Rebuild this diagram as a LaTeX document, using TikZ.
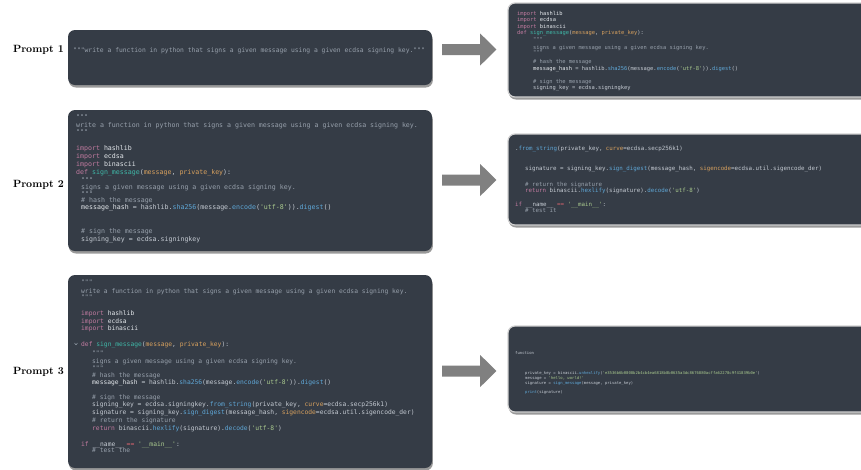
\documentclass[tikz,border=0pt]{standalone}
\usepackage{fontspec}
\setmonofont{DejaVu Sans Mono}
\usetikzlibrary{calc,shadows}
\definecolor{boxbg}{HTML}{353C46}
\definecolor{ctext}{HTML}{C5CBD3}
\definecolor{ckw}{HTML}{C27BA0}
\definecolor{cfn}{HTML}{3FB8A8}
\definecolor{cpar}{HTML}{D8A15E}
\definecolor{ccom}{HTML}{98A1AC}
\definecolor{cmth}{HTML}{5FA8D8}
\definecolor{cstrg}{HTML}{A9C98E}
\definecolor{copr}{HTML}{D9646E}
\definecolor{cmdl}{HTML}{E4E8EC}
\definecolor{arrowgray}{HTML}{808080}
\newcommand\kwd[1]{\textcolor{ckw}{#1}}
\newcommand\fnn[1]{\textcolor{cfn}{#1}}
\newcommand\prm[1]{\textcolor{cpar}{#1}}
\newcommand\cmt[1]{\textcolor{ccom}{#1}}
\newcommand\mtd[1]{\textcolor{cmth}{#1}}
\newcommand\strg[1]{\textcolor{cstrg}{#1}}
\newcommand\opr[1]{\textcolor{copr}{#1}}
\newcommand\mdl[1]{\textcolor{cmdl}{#1}}
\newcommand\cl[5]{\node[#1] (#2) at (#3,#4) {#5};}
\tikzset{
  codebox/.style={rectangle, fill=boxbg, rounded corners=7pt, inner sep=0pt,
    drop shadow={shadow xshift=0.8pt, shadow yshift=-2.5pt, fill=black, opacity=0.4}},
  outbox/.style={codebox, draw=black!18, line width=1.2pt},
  code/.style={anchor=mid west, inner sep=0pt, text=ctext},
  cA/.style={code, font=\ttfamily\fontsize{6.35}{7}\selectfont},
  cB/.style={code, font=\ttfamily\fontsize{6.6}{8}\selectfont},
  cC/.style={code, font=\ttfamily\fontsize{6.3}{8}\selectfont},
  cD/.style={code, font=\ttfamily\fontsize{5.4}{6}\selectfont},
  cE/.style={code, font=\ttfamily\fontsize{5.8}{6}\selectfont},
  cF/.style={code, font=\ttfamily\fontsize{3.9}{5}\selectfont},
  lbl/.style={anchor=mid east, inner sep=0pt, font=\bfseries\fontsize{10.5}{12}\selectfont},
  blockarrow/.style={fill=arrowgray},
}
\begin{document}
\begin{tikzpicture}[x=1pt,y=-1pt]
\useasboundingbox (0,0) rectangle (861,469);
\fill[white] (0,0) rectangle (861,469);

% boxes
\node[codebox, minimum width=364pt, minimum height=55pt] (p1box) at (250,57.5) {};
\node[codebox, minimum width=364pt, minimum height=141pt] (p2box) at (250,180.5) {};
\node[codebox, minimum width=364pt, minimum height=193pt] (p3box) at (250,371.5) {};
\node[outbox, minimum width=372pt, minimum height=94pt] (r1box) at (694,50) {};
\node[outbox, minimum width=372pt, minimum height=91pt] (r2box) at (694,179.5) {};
\node[outbox, minimum width=372pt, minimum height=86pt] (r3box) at (694,369) {};

% labels
\node[lbl] (l1) at (64,50) {Prompt 1};
\node[lbl] (l2) at (64,185) {Prompt 2};
\node[lbl] (l3) at (64,372) {Prompt 3};

% arrows
\coordinate (a1) at (0,49.5);
\coordinate (a2) at (0,180);
\coordinate (a3) at (0,371);
\foreach \b/\r/\a in {p1box/r1box/a1, p2box/r2box/a2, p3box/r3box/a3}{
  \fill[blockarrow] ($(\b.east |- \a)+(10,-5.5)$) -- ++(38,0) -- ++(0,-10.5)
    -- ($(\r.west |- \a)+(-11,0)$) -- ($(\b.east |- \a)+(48,16)$) -- ++(0,-10.5) -- ++(-38,0) -- cycle;
}

% Prompt 1
\cl{cA}{p1a}{73}{50}{\cmt{"""write a function in python that signs a given message using a given ecdsa signing key."""}}

% Prompt 2
\cl{cB}{p2a}{76}{117}{\cmt{"""}}
\cl{cB}{p2b}{76}{125}{\cmt{write a function in python that signs a given message using a given ecdsa signing key.}}
\cl{cB}{p2c}{76}{132}{\cmt{"""}}
\cl{cB}{p2d}{76}{148}{\kwd{import} \mdl{hashlib}}
\cl{cB}{p2e}{76}{156}{\kwd{import} \mdl{ecdsa}}
\cl{cB}{p2f}{76}{164}{\kwd{import} \mdl{binascii}}
\cl{cB}{p2g}{76}{172}{\kwd{def} \fnn{sign\_message}(\prm{message}, \prm{private\_key}):}
\cl{cB}{p2h}{81}{180}{\cmt{"""}}
\cl{cB}{p2i}{81}{187}{\cmt{signs a given message using a given ecdsa signing key.}}
\cl{cB}{p2j}{81}{194}{\cmt{"""}}
\cl{cB}{p2k}{81}{200}{\cmt{\# hash the message}}
\cl{cB}{p2l}{81}{207}{\mdl{message\_hash} = hashlib.\mtd{sha256}(message.\mtd{encode}(\strg{'utf-8'})).\mtd{digest}()}
\cl{cB}{p2m}{81}{231}{\cmt{\# sign the message}}
\cl{cB}{p2n}{81}{239}{signing\_key = ecdsa.signingkey}

% Prompt 3
\cl{cC}{p3a}{81}{282}{\cmt{"""}}
\cl{cC}{p3b}{81}{291}{\cmt{write a function in python that signs a given message using a given ecdsa signing key.}}
\cl{cC}{p3c}{81}{297}{\cmt{"""}}
\cl{cC}{p3d}{81}{313}{\kwd{import} \mdl{hashlib}}
\cl{cC}{p3e}{81}{321}{\kwd{import} \mdl{ecdsa}}
\cl{cC}{p3f}{81}{328}{\kwd{import} \mdl{binascii}}
\draw[ccom, line width=0.5pt] (74.5,343) -- (76,344.8) -- (77.5,343);
\cl{cC}{p3g}{81}{344}{\kwd{def} \fnn{sign\_message}(\prm{message}, \prm{private\_key}):}
\cl{cC}{p3h}{92}{353}{\cmt{"""}}
\cl{cC}{p3i}{92}{361}{\cmt{signs a given message using a given ecdsa signing key.}}
\cl{cC}{p3j}{92}{368}{\cmt{"""}}
\cl{cC}{p3k}{92}{375}{\cmt{\# hash the message}}
\cl{cC}{p3l}{92}{382}{\mdl{message\_hash} = hashlib.\mtd{sha256}(message.\mtd{encode}(\strg{'utf-8'})).\mtd{digest}()}
\cl{cC}{p3m}{92}{397}{\cmt{\# sign the message}}
\cl{cC}{p3n}{92}{404}{signing\_key = ecdsa.signingkey.\mtd{from\_string}(private\_key, \prm{curve}=ecdsa.secp256k1)}
\cl{cC}{p3o}{92}{412}{signature = signing\_key.\mtd{sign\_digest}(message\_hash, \prm{sigencode}=ecdsa.util.sigencode\_der)}
\cl{cC}{p3p}{92}{420}{\cmt{\# return the signature}}
\cl{cC}{p3q}{92}{428}{\kwd{return} binascii.\mtd{hexlify}(signature).\mtd{decode}(\strg{'utf-8'})}
\cl{cC}{p3r}{81}{444}{\kwd{if} \_\_name\_\_ \opr{==} \strg{'\_\_main\_\_'}:}
\cl{cC}{p3s}{92}{450}{\cmt{\# test the}}

% Output 1
\cl{cD}{r1a}{517}{13}{\kwd{import} \mdl{hashlib}}
\cl{cD}{r1b}{517}{19.5}{\kwd{import} \mdl{ecdsa}}
\cl{cD}{r1c}{517}{26}{\kwd{import} \mdl{binascii}}
\cl{cD}{r1d}{517}{32.5}{\kwd{def} \fnn{sign\_message}(\prm{message}, \prm{private\_key}):}
\cl{cD}{r1e}{533}{39}{\cmt{"""}}
\cl{cD}{r1f}{533}{47}{\cmt{signs a given message using a given ecdsa signing key.}}
\cl{cD}{r1g}{533}{52}{\cmt{"""}}
\cl{cD}{r1h}{533}{61}{\cmt{\# hash the message}}
\cl{cD}{r1i}{533}{68}{\mdl{message\_hash} = hashlib.\mtd{sha256}(message.\mtd{encode}(\strg{'utf-8'})).\mtd{digest}()}
\cl{cD}{r1j}{533}{81}{\cmt{\# sign the message}}
\cl{cD}{r1k}{533}{87}{signing\_key = ecdsa.signingkey}

% Output 2
\cl{cE}{r2a}{515}{148}{.\mtd{from\_string}(private\_key, \prm{curve}=ecdsa.secp256k1)}
\cl{cE}{r2b}{525}{168}{signature = signing\_key.\mtd{sign\_digest}(message\_hash, \prm{sigencode}=ecdsa.util.sigencode\_der)}
\cl{cE}{r2c}{525}{184}{\cmt{\# return the signature}}
\cl{cE}{r2d}{525}{190}{\kwd{return} binascii.\mtd{hexlify}(signature).\mtd{decode}(\strg{'utf-8'})}
\cl{cE}{r2e}{515}{204}{\kwd{if} \_\_name\_\_ \opr{==} \strg{'\_\_main\_\_'}:}
\cl{cE}{r2f}{525}{210}{\cmt{\# test it}}

% Output 3
\cl{cF}{r3a}{515}{352}{function}
\cl{cF}{r3b}{525}{372}{private\_key = binascii.\mtd{unhexlify}(\strg{'e3536b6b0808b2b4cb4ea6818b8b0635a3dc8676880acffa62278c9f41839b0e'})}
\cl{cF}{r3c}{525}{377}{message = \strg{'hello, world!'}}
\cl{cF}{r3d}{525}{382}{signature = \mtd{sign\_message}(message, private\_key)}
\cl{cF}{r3e}{525}{391}{\mtd{print}(signature)}
\end{tikzpicture}
\end{document}
